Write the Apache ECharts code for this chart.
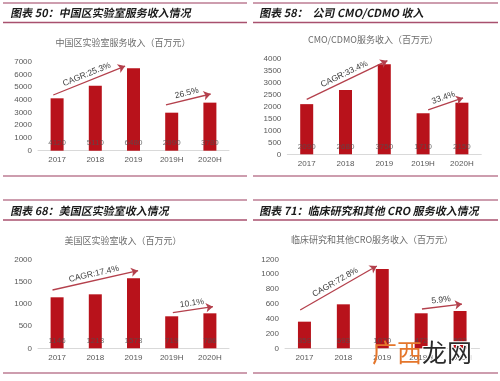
<!DOCTYPE html>
<html><head><meta charset="utf-8">
<script src="https://cdn.jsdelivr.net/npm/echarts@6/dist/echarts.min.js"></script>
<style>html,body{margin:0;padding:0;background:#fff}#c{width:500px;height:381px}</style>
</head><body><div id="c"></div>
<script>
// ---- data ----
const categories = ['2017', '2018', '2019', '2019H', '2020H'];
const chinaLab = [4120, 5110, 6480, 2990, 3780];
const cmoCdmo = [2090, 2680, 3750, 1710, 2150];
const usLab = [1146, 1213, 1573, 719, 786];
const clinicalCro = [359, 593, 1070, 472, 503];
const headings = ['图表 50：中国区实验室服务收入情况', '图表 58：  公司 CMO/CDMO 收入', '图表 68：美国区实验室收入情况', '图表 71：临床研究和其他 CRO 服务收入情况'];
const chartTitles = ['中国区实验室服务收入（百万元）', 'CMO/CDMO服务收入（百万元）', '美国区实验室收入（百万元）', '临床研究和其他CRO服务收入（百万元）'];
const yMax = [7000, 4000, 2000, 1200];
const yStep = [1000, 500, 500, 200];
const growth = [['CAGR:25.3%', '26.5%'], ['CAGR:33.4%', '33.4%'], ['CAGR:17.4%', '10.1%'], ['CAGR:72.8%', '5.9%']];
// arrow annotations in data space [xIndex, value]
const arrows = [
  [[[-0.10, 4380], [1.78, 6660]], [[2.85, 3600], [4.02, 4460]]],
  [[[0.0, 2290], [2.08, 3900]], [[3.13, 1850], [4.03, 2350]]],
  [[[-0.12, 1310], [2.12, 1744]], [[3.03, 800], [4.08, 935]]],
  [[[-0.11, 516], [1.86, 1110]], [[3.02, 530], [4.05, 597]]]
];
const seriesData = [chinaLab, cmoCdmo, usLab, clinicalCro];

// ---- layout ----
const grids = [
  {left: 38, top: 61.7, width: 191, height: 89},
  {left: 287.3, top: 58.3, width: 194, height: 96},
  {left: 38, top: 259.3, width: 191, height: 89},
  {left: 285, top: 259.3, width: 194.5, height: 89}
];
const headPos = [[11, 13], [260, 13], [11, 211], [260, 211]];
const titlePos = [[123, 43], [373, 40], [123, 241], [372, 240]];
const lineY = [[3, 22.5, 176], [3, 22.5, 176], [200, 220, 373], [200, 220, 373]];
const lineX = [[3, 247], [253, 498], [3, 247], [253, 498]];

const barColor = '#b8121b';
const arrowColor = '#b4404c';
const FONT = '"Noto Sans CJK SC", "Liberation Sans", sans-serif';

const xAxis = [], yAxis = [], series = [], graphic = [];
for (let i = 0; i < 4; i++) {
  xAxis.push({
    type: 'category', gridIndex: i, data: categories,
    axisLine: {lineStyle: {color: '#d9d9d9'}}, axisTick: {show: false},
    axisLabel: {color: '#595959', fontSize: 8, margin: 5, fontFamily: '"Liberation Sans", sans-serif'}
  });
  xAxis.push({type: 'value', gridIndex: i, min: -0.5, max: 4.5, show: false});
  yAxis.push({
    type: 'value', gridIndex: i, min: 0, max: yMax[i], interval: yStep[i],
    axisLine: {show: false}, axisTick: {show: false}, splitLine: {show: false},
    axisLabel: {color: '#595959', fontSize: 8, margin: 6, fontFamily: '"Liberation Sans", sans-serif', formatter: v => String(v)}
  });
  series.push({
    type: 'bar', xAxisIndex: 2 * i, yAxisIndex: i, data: seriesData[i], barWidth: 13,
    itemStyle: {color: barColor},
    label: {show: true, position: 'insideBottom', distance: 4, fontSize: 8, color: 'rgba(80,80,80,0.8)', fontFamily: '"Liberation Sans", sans-serif'},
    silent: true
  });
  series.push({
    type: 'line', xAxisIndex: 2 * i + 1, yAxisIndex: i, data: [[0, 0]], showSymbol: false, symbolSize: 0,
    lineStyle: {opacity: 0}, silent: true,
    markLine: {
      silent: true, symbol: ['none', 'arrow'], symbolSize: [7, 7],
      lineStyle: {color: arrowColor, width: 1.3, type: 'solid'},
      label: {show: true, position: 'insideMiddleTop', distance: 2, fontSize: 8.5, color: '#404040', fontFamily: '"Liberation Sans", sans-serif'},
      data: arrows[i].map((a, k) => [
        {coord: a[0], label: {formatter: growth[i][k]}},
        {coord: a[1]}
      ])
    }
  });
  // frame lines
  lineY[i].forEach((y, k) => graphic.push({
    type: 'line', silent: true,
    shape: {x1: lineX[i][0], y1: y, x2: lineX[i][1], y2: y},
    style: {stroke: k === 1 ? '#a8506e' : '#bd7d93', lineWidth: 1.4}
  }));
  graphic.push({
    type: 'text', silent: true, x: headPos[i][0], y: headPos[i][1], skewX: -0.2,
    style: {text: headings[i], fontSize: 11, fontWeight: 'bold', fill: '#1a1a1a', fontFamily: FONT, verticalAlign: 'middle'}
  });
  graphic.push({
    type: 'text', silent: true, x: titlePos[i][0], y: titlePos[i][1],
    style: {text: chartTitles[i], fontSize: 9, fill: '#6b6b6b', fontFamily: FONT, align: 'center', verticalAlign: 'middle'}
  });
}
// watermark
graphic.push({
  type: 'text', silent: true, x: 372, y: 352, z: 100,
  style: {
    text: '{a|广西}{b|龙网}', verticalAlign: 'middle', fontFamily: FONT,
    rich: {
      a: {fontSize: 25, fill: '#e4762c', fontFamily: FONT},
      b: {fontSize: 25, fill: '#2b2b2b', fontFamily: FONT, stroke: '#fff', lineWidth: 2}
    }
  }
});

const chart = echarts.init(document.getElementById('c'), null, {renderer: 'canvas'});
chart.setOption({
  animation: false,
  backgroundColor: '#fff',
  grid: grids,
  xAxis, yAxis, series, graphic
});
</script></body></html>
